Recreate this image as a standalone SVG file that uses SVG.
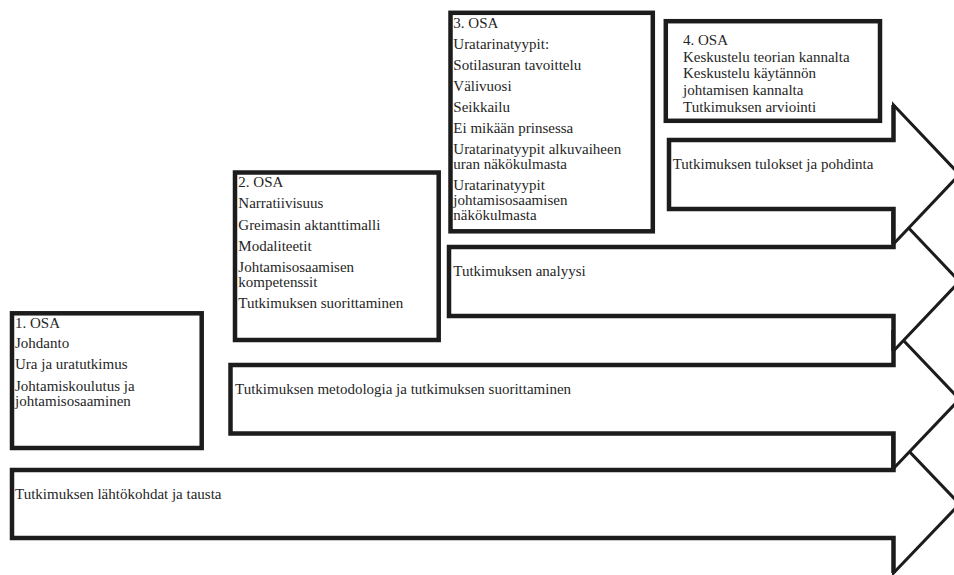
<svg xmlns="http://www.w3.org/2000/svg" width="954" height="575" viewBox="0 0 954 575">
  <style>
    .head { fill: #ffffff; stroke: #1c1c1c; stroke-width: 3; stroke-linejoin: miter; }
    .body { fill: none; stroke: #1c1c1c; stroke-width: 4.5; stroke-linejoin: miter; }
    .box  { fill: #ffffff; stroke: #1c1c1c; stroke-width: 4.5; }
    text  { font-family: "Liberation Serif", "Times New Roman", serif; font-size: 15px; fill: #262626; }
  </style>
  <rect x="0" y="0" width="954" height="575" fill="#ffffff"/>

  <!-- Block arrows, drawn bottom-up so each head covers the one below -->
  <g id="arrow-lahtokohdat">
    <path class="head" d="M12,470 H893.5 V435 L959.5,504 L893.5,573 V538 H12 Z"/>
    <path class="body" d="M893.5,435 V470 H12 V538 H893.5 V573"/>
    <text x="15" y="499.3">Tutkimuksen lähtökohdat ja tausta</text>
  </g>
  <g id="arrow-metodologia">
    <path class="head" d="M230.5,365 H893.5 V330 L959.5,399.25 L893.5,468.5 V433.5 H230.5 Z"/>
    <path class="body" d="M893.5,330 V365 H230.5 V433.5 H893.5 V468.5"/>
    <text x="235" y="394">Tutkimuksen metodologia ja tutkimuksen suorittaminen</text>
  </g>
  <g id="arrow-analyysi">
    <path class="head" d="M449,247 H893.5 V212 L959.5,281.5 L893.5,351 V316 H449 Z"/>
    <path class="body" d="M893.5,212 V247 H449 V316 H893.5 V351"/>
    <text x="453.3" y="275.7">Tutkimuksen analyysi</text>
  </g>
  <g id="arrow-tulokset">
    <path class="head" d="M669,140 H893.5 V105 L959.5,174.5 L893.5,244 V209 H669 Z"/>
    <path class="body" d="M893.5,105 V140 H669 V209 H893.5 V244"/>
    <text x="672.7" y="169.3">Tutkimuksen tulokset ja pohdinta</text>
  </g>

  <!-- Part boxes -->
  <g id="osa-1">
    <rect class="box" x="12" y="313.3" width="189.7" height="134.7"/>
    <text x="15" y="328.3">1. OSA</text>
    <text x="15" y="348.3">Johdanto</text>
    <text x="15" y="369.3">Ura ja uratutkimus</text>
    <text x="15" y="391">Johtamiskoulutus ja</text>
    <text x="15" y="406">johtamisosaaminen</text>
  </g>
  <g id="osa-2">
    <rect class="box" x="235" y="172.5" width="203.7" height="167.5"/>
    <text x="238.3" y="186.5">2. OSA</text>
    <text x="238.3" y="208">Narratiivisuus</text>
    <text x="238.3" y="229.5">Greimasin aktanttimalli</text>
    <text x="238.3" y="251">Modaliteetit</text>
    <text x="238.3" y="272">Johtamisosaamisen</text>
    <text x="238.3" y="286.5">kompetenssit</text>
    <text x="238.3" y="308">Tutkimuksen suorittaminen</text>
  </g>
  <g id="osa-3">
    <rect class="box" x="450.5" y="12.8" width="202.3" height="218.5"/>
    <text x="453.3" y="28">3. OSA</text>
    <text x="453.3" y="49">Uratarinatyypit:</text>
    <text x="453.3" y="70">Sotilasuran tavoittelu</text>
    <text x="453.3" y="91">Välivuosi</text>
    <text x="453.3" y="112">Seikkailu</text>
    <text x="453.3" y="133">Ei mikään prinsessa</text>
    <text x="453.3" y="154">Uratarinatyypit alkuvaiheen</text>
    <text x="453.3" y="169">uran näkökulmasta</text>
    <text x="453.3" y="190">Uratarinatyypit</text>
    <text x="453.3" y="205">johtamisosaamisen</text>
    <text x="453.3" y="220">näkökulmasta</text>
  </g>
  <g id="osa-4">
    <rect class="box" x="665.8" y="21.2" width="214.2" height="99.6"/>
    <text x="683" y="45">4. OSA</text>
    <text x="683" y="61.7">Keskustelu teorian kannalta</text>
    <text x="683" y="78.3">Keskustelu käytännön</text>
    <text x="683" y="95">johtamisen kannalta</text>
    <text x="683" y="111.5">Tutkimuksen arviointi</text>
  </g>

  <!-- No separate connector lines: the block arrows carry the flow -->
  <g id="connectors"/>
</svg>
